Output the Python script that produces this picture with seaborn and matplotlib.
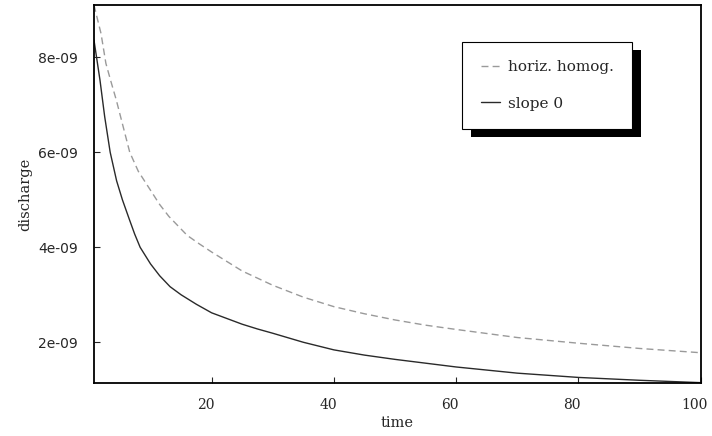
import pandas as pd
import matplotlib.pyplot as plt
import matplotlib.transforms as mtrans
import seaborn as sns
from matplotlib.patches import Rectangle

# values (units of 1e-9)
t_homog = [0.75, 1.9, 2.7, 3.5, 4.4, 5.5, 6.6, 8.0, 10, 11.5, 13, 14.5, 16, 18, 20,
           22.5, 25, 27.5, 30, 35, 40, 45, 50, 55, 60, 70, 80, 90, 100]
q_homog = [9.10, 8.5, 7.87, 7.5, 7.1, 6.55, 6.0, 5.6, 5.2, 4.9, 4.65, 4.45, 4.25, 4.07, 3.9,
           3.7, 3.5, 3.35, 3.2, 2.95, 2.75, 2.6, 2.47, 2.36, 2.27, 2.10, 1.98, 1.87, 1.78]

t_slope = [0.75, 1.73, 2.5, 3.4, 4.45, 5.4, 6.5, 7.4, 8.3, 10, 11.5, 13.2, 15, 17.5, 20,
           22.5, 25, 27.5, 30, 35, 40, 45, 50, 55, 60, 70, 80, 90, 100]
q_slope = [8.36, 7.52, 6.75, 6.0, 5.4, 5.0, 4.6, 4.28, 4.0, 3.65, 3.4, 3.17, 3.0, 2.8, 2.62,
           2.5, 2.38, 2.28, 2.19, 2.0, 1.84, 1.73, 1.64, 1.56, 1.48, 1.35, 1.26, 1.20, 1.15]

labels = ["horiz. homog.", "slope 0"]

df = pd.concat([
    pd.DataFrame({"time": t_homog, "discharge": [v * 1e-9 for v in q_homog], "series": labels[0]}),
    pd.DataFrame({"time": t_slope, "discharge": [v * 1e-9 for v in q_slope], "series": labels[1]}),
])

sns.set_style("ticks")
plt.rcParams["font.family"] = ["DejaVu Serif"]

fig = plt.figure(figsize=(7.12, 4.36), dpi=100)
ax = fig.add_axes([0.132, 0.1216, 0.852, 0.8669])

sns.lineplot(data=df, x="time", y="discharge", hue="series", style="series",
             palette={labels[0]: "#9a9a9a", labels[1]: "#2a2a2a"},
             dashes={labels[0]: (5, 3), labels[1]: ""},
             linewidth=1.0, ax=ax, legend=False)

ax.set_xlim(0.75, 100)
ax.set_ylim(1.143e-9, 9.10e-9)
ax.set_xticks([20, 40, 60, 80, 100])
ax.set_yticks([2e-9, 4e-9, 6e-9, 8e-9])
ax.set_yticklabels(["2e-09", "4e-09", "6e-09", "8e-09"], family="DejaVu Sans", fontsize=10)
ax.tick_params(direction="in", length=4.5, width=0.8, labelsize=10)
ax.tick_params(axis="y", pad=11.5)
ax.tick_params(axis="x", pad=11)
shift = mtrans.ScaledTranslation(-6 / 100, 0, fig.dpi_scale_trans)
for lab in ax.get_xticklabels():
    lab.set_transform(lab.get_transform() + shift)
for s in ax.spines.values():
    s.set_linewidth(1.3)
    s.set_color("black")

ax.set_xlabel("time", fontsize=10.5, labelpad=3)
ax.set_ylabel("discharge", fontsize=10.5, labelpad=4)

leg = ax.legend(ax.get_lines()[:2], labels, loc="upper left",
                bbox_to_anchor=(0.607, 0.902), frameon=True, fancybox=False,
                fontsize=11, handlelength=1.3, labelspacing=1.45,
                borderpad=1.2, handletextpad=0.5, borderaxespad=0)
leg.get_frame().set_edgecolor("black")
leg.get_frame().set_linewidth(0.8)
leg.get_frame().set_alpha(1)
leg.set_zorder(5)

# black drop shadow under the legend box
fig.canvas.draw()
bb = leg.get_window_extent()
shadow = Rectangle((bb.x0 + 9, bb.y0 - 8), bb.width, bb.height, transform=None,
                   facecolor="black", edgecolor="none", zorder=4)
ax.add_artist(shadow)

fig.savefig("out.png", dpi=100)
